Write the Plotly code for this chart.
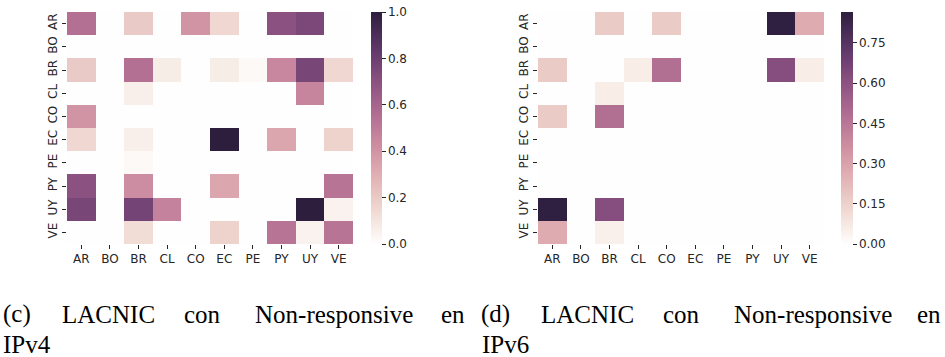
import numpy as np
import plotly.graph_objects as go

countries = ["AR", "BO", "BR", "CL", "CO", "EC", "PE", "PY", "UY", "VE"]

# (c) IPv4 - rows: AR..VE, columns: AR..VE
ipv4_values = [
    [0.55, 0.00, 0.20, 0.00, 0.40, 0.15, 0.00, 0.70, 0.75, 0.00],
    [0.00, 0.00, 0.00, 0.00, 0.00, 0.00, 0.00, 0.00, 0.00, 0.00],
    [0.20, 0.00, 0.55, 0.07, 0.00, 0.07, 0.02, 0.45, 0.76, 0.15],
    [0.00, 0.00, 0.06, 0.00, 0.00, 0.00, 0.00, 0.00, 0.46, 0.00],
    [0.40, 0.00, 0.00, 0.00, 0.00, 0.00, 0.00, 0.00, 0.00, 0.00],
    [0.15, 0.00, 0.06, 0.00, 0.00, 1.00, 0.00, 0.33, 0.00, 0.17],
    [0.00, 0.00, 0.02, 0.00, 0.00, 0.00, 0.00, 0.00, 0.00, 0.00],
    [0.70, 0.00, 0.43, 0.00, 0.00, 0.33, 0.00, 0.00, 0.00, 0.53],
    [0.76, 0.00, 0.77, 0.47, 0.00, 0.00, 0.00, 0.00, 1.00, 0.05],
    [0.00, 0.00, 0.13, 0.00, 0.00, 0.17, 0.00, 0.53, 0.05, 0.53],
]

# (d) IPv6
ipv6_values = [
    [0.00, 0.00, 0.17, 0.00, 0.17, 0.00, 0.00, 0.00, 0.86, 0.27],
    [0.00, 0.00, 0.00, 0.00, 0.00, 0.00, 0.00, 0.00, 0.00, 0.00],
    [0.17, 0.00, 0.00, 0.06, 0.48, 0.00, 0.00, 0.00, 0.62, 0.06],
    [0.00, 0.00, 0.06, 0.00, 0.00, 0.00, 0.00, 0.00, 0.00, 0.00],
    [0.17, 0.00, 0.48, 0.00, 0.00, 0.00, 0.00, 0.00, 0.00, 0.00],
    [0.00, 0.00, 0.00, 0.00, 0.00, 0.00, 0.00, 0.00, 0.00, 0.00],
    [0.00, 0.00, 0.00, 0.00, 0.00, 0.00, 0.00, 0.00, 0.00, 0.00],
    [0.00, 0.00, 0.00, 0.00, 0.00, 0.00, 0.00, 0.00, 0.00, 0.00],
    [0.86, 0.00, 0.62, 0.00, 0.00, 0.00, 0.00, 0.00, 0.00, 0.00],
    [0.27, 0.00, 0.05, 0.00, 0.00, 0.00, 0.00, 0.00, 0.00, 0.00],
]

ipv4_ticks = [0.0, 0.2, 0.4, 0.6, 0.8, 1.0]
ipv4_ticktext = ["0.0", "0.2", "0.4", "0.6", "0.8", "1.0"]
ipv6_ticks = [0.0, 0.15, 0.30, 0.45, 0.60, 0.75]
ipv6_ticktext = ["0.00", "0.15", "0.30", "0.45", "0.60", "0.75"]
ipv6_max = 0.865

caption_c = ["(c)", "LACNIC", "con", "Non-responsive", "en"]
caption_d = ["(d)", "LACNIC", "con", "Non-responsive", "en"]
caption_c2 = "IPv4"
caption_d2 = "IPv6"


def cubehelix_scale(n=32, start=0.0, rot=0.4, gamma=1.0, hue=0.8, light=0.998, dark=0.15):
    xs = np.linspace(light, dark, n)
    out = []
    for i, x in enumerate(xs):
        xg = x ** gamma
        a = hue * xg * (1 - xg) / 2
        phi = 2 * np.pi * (start / 3 + rot * x)
        r = xg + a * (-0.14861 * np.cos(phi) + 1.78277 * np.sin(phi))
        g = xg + a * (-0.29227 * np.cos(phi) - 0.90649 * np.sin(phi))
        b = xg + a * (1.97294 * np.cos(phi))
        rgb = [int(round(255 * min(max(c, 0), 1))) for c in (r, g, b)]
        out.append([i / (n - 1), f"rgb({rgb[0]},{rgb[1]},{rgb[2]})"])
    return out


cs = cubehelix_scale()
W, H = 945, 357


def px(xp):
    return xp / W


def py(yp):
    return 1 - yp / H


tickfont = dict(family="DejaVu Sans", size=12, color="#262626")

fig = go.Figure()
fig.add_trace(go.Heatmap(
    z=ipv4_values, x=countries, y=countries, colorscale=cs, zmin=0, zmax=1,
    xaxis="x", yaxis="y",
    colorbar=dict(x=px(371), xanchor="left", y=py(244), yanchor="bottom",
                  len=232 / H, lenmode="fraction", thickness=11, xpad=0, ypad=0,
                  outlinewidth=0, tickvals=ipv4_ticks, ticktext=ipv4_ticktext,
                  ticks="outside", ticklen=4, tickcolor="#262626", tickfont=tickfont),
))
fig.add_trace(go.Heatmap(
    z=ipv6_values, x=countries, y=countries, colorscale=cs, zmin=0, zmax=ipv6_max,
    xaxis="x2", yaxis="y2",
    colorbar=dict(x=px(841), xanchor="left", y=py(244), yanchor="bottom",
                  len=232 / H, lenmode="fraction", thickness=12, xpad=0, ypad=0,
                  outlinewidth=0, tickvals=ipv6_ticks, ticktext=ipv6_ticktext,
                  ticks="outside", ticklen=4, tickcolor="#262626", tickfont=tickfont),
))

ax_common = dict(showgrid=False, zeroline=False, showline=False, ticks="outside",
                 ticklen=4, tickcolor="#262626", tickfont=tickfont)
fig.update_layout(
    width=W, height=H, margin=dict(l=0, r=0, t=0, b=0),
    paper_bgcolor="white", plot_bgcolor="white", showlegend=False,
    xaxis=dict(domain=[px(67), px(353)], anchor="y", **ax_common),
    yaxis=dict(domain=[py(244), py(12)], anchor="x", autorange="reversed",
               tickangle=-90, **ax_common),
    xaxis2=dict(domain=[px(538), px(824)], anchor="y2", **ax_common),
    yaxis2=dict(domain=[py(244), py(12)], anchor="x2", autorange="reversed",
                tickangle=-90, **ax_common),
)

capfont = dict(family="Liberation Serif", size=25, color="black")
word_centers = [17, 108, 202, 334]
for offset, words, line2 in [(0, caption_c, caption_c2), (479, caption_d, caption_d2)]:
    for w, c in zip(words[:-1], word_centers):
        fig.add_annotation(text=w, x=px(c + offset), y=py(314), xref="paper", yref="paper",
                           xanchor="center", yanchor="middle", showarrow=False, font=capfont,
                           borderpad=0)
    fig.add_annotation(text=words[-1], x=px(min(466 + offset, 942)), y=py(314),
                       xref="paper", yref="paper", xanchor="right", yanchor="middle",
                       showarrow=False, font=capfont, borderpad=0)
    fig.add_annotation(text=line2, x=px(2 + offset), y=py(344), xref="paper", yref="paper",
                       xanchor="left", yanchor="middle", showarrow=False, font=capfont,
                       borderpad=0)

fig.write_html(
    "out.html",
    config={"displayModeBar": False},
    post_script="document.body.style.margin='0';document.body.style.overflow='hidden';",
)
